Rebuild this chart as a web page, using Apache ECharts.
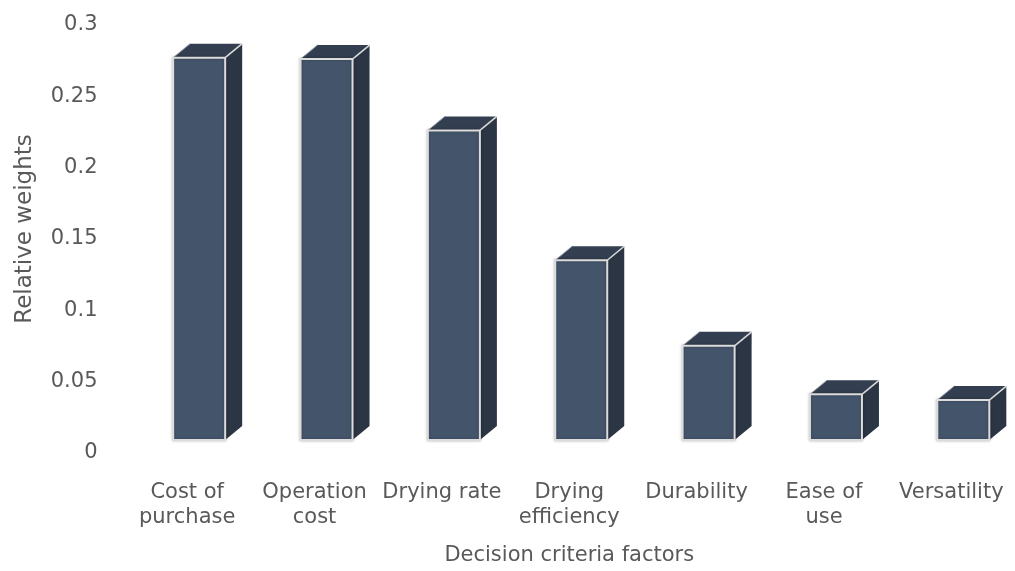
<!DOCTYPE html>
<html>
<head>
<meta charset="utf-8">
<title>Relative weights of decision criteria factors</title>
<script src="https://cdn.jsdelivr.net/npm/echarts@6/dist/echarts.min.js"></script>
<style>
  html, body { margin: 0; padding: 0; background: #ffffff; }
  #chart { width: 1015px; height: 571px; }
</style>
</head>
<body>
<div id="chart"></div>
<script>
// Decision criteria and their relative weights
const categories = [
  'Cost of\npurchase',
  'Operation\ncost',
  'Drying rate',
  'Drying\nefficiency',
  'Durability',
  'Ease of\nuse',
  'Versatility'
];
const weights = [0.268, 0.267, 0.217, 0.126, 0.066, 0.032, 0.028];
const yTicks = { min: 0, max: 0.3, interval: 0.05 };

// Pseudo-3D column look
const FRONT = '#44546a';
const TOP = '#333f50';
const SIDE = '#2b3544';
const EDGE = '#dcdcdc';
const BAR_W = 52;      // front face width
const DEPTH_X = 17;    // oblique depth, horizontal
const DEPTH_Y = 14;    // oblique depth, vertical
const SHIFT_X = 12;    // front face offset from the category centre
const LIFT = 10;       // front face sits behind the floor edge

const TEXT = '#595959';
const FONT = '"DejaVu Sans", sans-serif';
const FONT_SIZE = 21;

const chart = echarts.init(document.getElementById('chart'), null, { renderer: 'canvas' });

function renderColumn(params, api) {
  const i = api.value(0);
  const v = api.value(1);
  const base = api.coord([i, 0]);
  const head = api.coord([i, v]);
  const cx = base[0] + SHIFT_X;
  const l = cx - BAR_W / 2;
  const r = cx + BAR_W / 2;
  const yb = base[1] - LIFT;
  const yt = head[1] - LIFT;
  return {
    type: 'group',
    children: [
      { // right side face
        type: 'polygon',
        shape: { points: [[r, yt], [r + DEPTH_X, yt - DEPTH_Y], [r + DEPTH_X, yb - DEPTH_Y], [r, yb]] },
        style: { fill: SIDE }
      },
      { // top face
        type: 'polygon',
        shape: { points: [[l, yt], [l + DEPTH_X, yt - DEPTH_Y], [r + DEPTH_X, yt - DEPTH_Y], [r, yt]] },
        style: { fill: TOP }
      },
      { // light slanted edges of the top face
        type: 'polyline',
        shape: { points: [[l, yt], [l + DEPTH_X, yt - DEPTH_Y]] },
        style: { stroke: '#8a93a0', lineWidth: 1, fill: null }
      },
      {
        type: 'polyline',
        shape: { points: [[r, yt], [r + DEPTH_X, yt - DEPTH_Y]] },
        style: { stroke: EDGE, lineWidth: 1.5, fill: null }
      },
      { // front face
        type: 'rect',
        shape: { x: l, y: yt, width: BAR_W, height: yb - yt },
        style: {
          fill: FRONT, stroke: EDGE, lineWidth: 2,
          shadowColor: 'rgba(0,0,0,0.25)', shadowBlur: 3
        }
      }
    ]
  };
}

chart.setOption({
  animation: false,
  grid: { left: 123.5, right: -10.8, top: 22, bottom: 121, containLabel: false },
  xAxis: {
    type: 'category',
    data: categories,
    axisLine: { show: false },
    axisTick: { show: false },
    splitLine: { show: false },
    axisLabel: {
      interval: 0, margin: 30, color: TEXT, fontFamily: FONT, fontSize: FONT_SIZE,
      lineHeight: 25, align: 'center'
    },
    name: 'Decision criteria factors',
    nameLocation: 'middle',
    nameGap: 95,
    nameTextStyle: { color: TEXT, fontFamily: FONT, fontSize: FONT_SIZE }
  },
  yAxis: {
    type: 'value',
    min: yTicks.min, max: yTicks.max, interval: yTicks.interval,
    axisLine: { show: false },
    axisTick: { show: false },
    splitLine: { show: false },
    axisLabel: {
      margin: 26, color: TEXT, fontFamily: FONT, fontSize: FONT_SIZE,
      formatter: '{t|{value}}',
      rich: { t: { color: TEXT, fontFamily: FONT, fontSize: FONT_SIZE, padding: [6, 0, 0, 0] } }
    },
    name: 'Relative weights',
    nameLocation: 'middle',
    nameRotate: 90,
    nameGap: 87,
    nameTextStyle: { color: TEXT, fontFamily: FONT, fontSize: 23, padding: [0, 0, 0, 14] }
  },
  series: [{
    type: 'custom',
    renderItem: renderColumn,
    encode: { x: 0, y: 1 },
    data: weights.map((w, i) => [i, w]),
    clip: false
  }]
});
</script>
</body>
</html>
